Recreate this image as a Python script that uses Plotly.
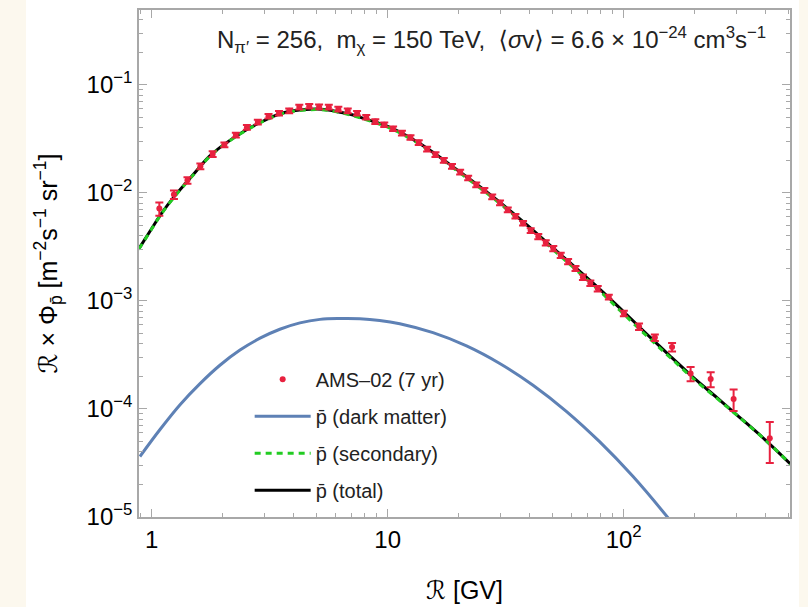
import plotly.graph_objects as go

# AMS-02 (7 yr) antiproton data, R x flux [m^-2 s^-1 sr^-1]
ams_r = [1.077, 1.242, 1.417, 1.607, 1.812, 2.032, 2.272, 2.531, 2.816, 3.126,
         3.461, 3.825, 4.220, 4.650, 5.119, 5.629, 6.178, 6.773, 7.418, 8.112,
         8.862, 9.671, 10.54, 11.49, 12.49, 13.54, 14.69, 15.94, 17.29, 18.73,
         20.28, 21.93, 23.73, 25.68, 27.73, 29.93, 32.28, 34.78, 37.47, 40.37,
         43.47, 46.77, 50.32, 54.12, 58.16, 62.51, 67.21, 72.25, 77.65, 86.52,
         100.2, 116.2, 135.6, 160.4, 192.2, 233.8, 292.4, 416.2]
ams_flux = [7.16e-3, 9.64e-3, 1.306e-2, 1.762e-2, 2.29e-2, 2.79e-2, 3.43e-2, 4.04e-2, 4.52e-2, 5.13e-2,
            5.47e-2, 5.75e-2, 6.24e-2, 6.35e-2, 6.27e-2, 6.22e-2, 5.96e-2, 5.75e-2, 5.47e-2, 5.02e-2,
            4.58e-2, 4.28e-2, 3.93e-2, 3.58e-2, 3.26e-2, 2.93e-2, 2.55e-2, 2.26e-2, 2.00e-2, 1.76e-2,
            1.56e-2, 1.375e-2, 1.19e-2, 1.057e-2, 9.18e-3, 8.09e-3, 6.97e-3, 6.08e-3, 5.24e-3, 4.49e-3,
            3.95e-3, 3.45e-3, 3.06e-3, 2.65e-3, 2.32e-3, 2.00e-3, 1.66e-3, 1.46e-3, 1.30e-3, 1.087e-3,
            7.67e-4, 5.79e-4, 4.58e-4, 3.75e-4, 2.13e-4, 1.89e-4, 1.236e-4, 5.36e-5]
ams_err = [1.0e-3, 8.7e-4, 9.1e-4, 1.06e-3, 1.37e-3, 1.40e-3, 1.72e-3, 2.02e-3, 2.26e-3, 2.57e-3,
           2.74e-3, 2.88e-3, 3.12e-3, 3.18e-3, 3.14e-3, 3.11e-3, 2.98e-3, 2.88e-3, 2.74e-3, 2.51e-3,
           2.29e-3, 2.14e-3, 1.97e-3, 1.79e-3, 1.63e-3, 1.47e-3, 1.28e-3, 1.13e-3, 1.00e-3, 8.8e-4,
           7.8e-4, 6.9e-4, 6.0e-4, 5.3e-4, 4.6e-4, 4.0e-4, 3.5e-4, 3.0e-4, 2.6e-4, 2.3e-4,
           2.2e-4, 1.9e-4, 1.7e-4, 1.5e-4, 1.3e-4, 1.1e-4, 9.5e-5, 8.5e-5, 7.8e-5, 5.4e-5,
           4.6e-5, 4.0e-5, 3.2e-5, 3.4e-5, 3.2e-5, 3.0e-5, 2.8e-5, 2.2e-5]

# model curves
curve_r = [0.88, 1.0, 1.1, 1.25, 1.5, 1.75, 2.0, 2.5, 3.0, 3.5, 4.0, 4.5, 5.0, 5.5, 6.0, 7.0,
           8.0, 9.0, 10, 12, 15, 20, 25, 30, 40, 50, 60, 80, 100, 130, 160, 200, 250, 300, 400, 510]
total_flux = [3.02e-3, 4.68e-3, 6.46e-3, 9.33e-3, 1.479e-2, 2.163e-2, 2.754e-2, 3.80e-2, 4.68e-2,
              5.40e-2, 5.75e-2, 5.92e-2, 5.97e-2, 5.89e-2, 5.71e-2, 5.31e-2, 4.86e-2, 4.48e-2,
              4.12e-2, 3.39e-2, 2.51e-2, 1.596e-2, 1.109e-2, 8.13e-3, 4.79e-3, 3.11e-3, 2.20e-3,
              1.259e-3, 7.94e-4, 4.57e-4, 2.99e-4, 1.905e-4, 1.259e-4, 8.91e-5, 5.13e-5, 3.09e-5]
secondary_flux = [2.99e-3, 4.64e-3, 6.40e-3, 9.24e-3, 1.466e-2, 2.145e-2, 2.73e-2, 3.77e-2, 4.64e-2,
                  5.35e-2, 5.70e-2, 5.86e-2, 5.91e-2, 5.83e-2, 5.65e-2, 5.24e-2, 4.79e-2, 4.41e-2,
                  4.06e-2, 3.33e-2, 2.46e-2, 1.56e-2, 1.08e-2, 7.92e-3, 4.65e-3, 3.01e-3, 2.12e-3,
                  1.21e-3, 7.57e-4, 4.40e-4, 2.90e-4, 1.86e-4, 1.24e-4, 8.85e-5, 5.12e-5, 3.09e-5]

dm_r = [0.891, 1.084, 1.318, 1.602, 1.945, 2.366, 2.877, 3.491, 4.246, 5.164, 6.266, 7.621,
        9.247, 11.25, 15.56, 21.58, 29.85, 41.30, 57.15, 79.07, 109.4, 156.3, 177.8]
dm_flux = [3.63e-5, 6.46e-5, 1.096e-4, 1.718e-4, 2.54e-4, 3.51e-4, 4.52e-4, 5.47e-4, 6.27e-4,
           6.75e-4, 6.87e-4, 6.84e-4, 6.60e-4, 6.15e-4, 5.09e-4, 3.84e-4, 2.64e-4, 1.66e-4,
           9.52e-5, 4.98e-5, 2.38e-5, 9.48e-6, 6.62e-6]

x_major = [1, 10, 100]
x_major_text = ["1", "10", "10<sup>2</sup>"]
y_major = [1e-5, 1e-4, 1e-3, 1e-2, 1e-1]
y_major_text = ["10<sup>\u22125</sup>", "10<sup>\u22124</sup>", "10<sup>\u22123</sup>",
                "10<sup>\u22122</sup>", "10<sup>\u22121</sup>"]

RED = "#e8213f"
BLUE = "#5e81b5"
GREEN = "#22cc22"
FRAME = "#a8a8a8"
FONT = "Liberation Sans, Arial, DejaVu Sans, sans-serif"
NB = "\u00a0"

fig = go.Figure()

fig.add_trace(go.Scatter(
    x=dm_r, y=dm_flux, mode="lines", name="p\u0304 (dark matter)",
    line=dict(color=BLUE, width=3, shape="spline"),
    legendgroup="dm", legendrank=2
))
fig.add_trace(go.Scatter(
    x=curve_r, y=total_flux, mode="lines", name="p\u0304 (total)",
    line=dict(color="black", width=3, shape="spline"),
    legendgroup="tot", legendrank=4
))
fig.add_trace(go.Scatter(
    x=curve_r, y=secondary_flux, mode="lines", name="p\u0304 (secondary)",
    line=dict(color=GREEN, width=3, dash="6px,5px", shape="spline"),
    legendgroup="sec", legendrank=3
))
fig.add_trace(go.Scatter(
    x=ams_r, y=ams_flux, mode="markers", name="AMS\u201302 (7 yr)",
    marker=dict(color=RED, size=6),
    error_y=dict(type="data", array=ams_err, color=RED, thickness=2, width=4),
    legendgroup="ams", legendrank=1
))

x_minor = [k * 10 ** e for e in range(-1, 3) for k in range(2, 10)]
y_minor = [k * 10.0 ** e for e in range(-5, -1) for k in range(2, 10)] + [0.2, 0.3, 0.4]

axis_common = dict(
    type="log", automargin=False,
    showline=True, linecolor=FRAME, linewidth=1.5, mirror="ticks",
    ticks="inside", ticklen=8, tickcolor=FRAME, tickwidth=1,
    showgrid=False, zeroline=False,
    tickfont=dict(family=FONT, size=24, color="black"),
)

fig.update_xaxes(
    **axis_common,
    range=[-0.054, 2.705],
    tickvals=x_major, ticktext=x_major_text,
    minor=dict(tickvals=x_minor, ticks="inside", ticklen=4, tickcolor=FRAME, showgrid=False),
    title=dict(text="\u211b [GV]", font=dict(family=FONT, size=25, color="black"), standoff=30),
)
fig.update_yaxes(
    **axis_common,
    range=[-5, -0.307],
    tickvals=y_major, ticktext=y_major_text,
    minor=dict(tickvals=y_minor, ticks="inside", ticklen=4, tickcolor=FRAME, showgrid=False),
    title=dict(text="\u211b \u00d7 \u03a6<sub>p\u0304</sub> [m<sup>\u22122</sup>s<sup>\u22121</sup> sr<sup>\u22121</sup>]",
               font=dict(family=FONT, size=25, color="black"), standoff=22),
)

fig.add_annotation(
    x=0.541, y=0.941, xref="paper", yref="paper", showarrow=False,
    xanchor="center", yanchor="middle",
    text=("N<sub>\u03c0\u2032</sub> = 256," + NB + NB + "m<sub>\u03c7</sub> = 150 TeV," + NB + NB
          + "\u27e8<i>\u03c3</i>v\u27e9 = 6.6 \u00d7 10<sup>\u221224</sup> cm<sup>3</sup>s<sup>\u22121</sup>"),
    font=dict(family=FONT, size=24, color="#222222"),
)

# white slide panel behind the chart
fig.add_shape(type="rect", xref="paper", yref="paper", x0=-0.1736, x1=1.0138, y0=-0.18, y1=1.02,
              fillcolor="white", line=dict(width=0), layer="below")

fig.update_layout(
    width=808, height=607,
    margin=dict(l=139, r=18, t=10, b=90),
    paper_bgcolor="#fcf8ee",
    plot_bgcolor="white",
    font=dict(family=FONT, color="black"),
    showlegend=True,
    legend=dict(
        x=0.17, y=0.31, xanchor="left", yanchor="top",
        bgcolor="rgba(0,0,0,0)", font=dict(family=FONT, size=20, color="#222222"),
        itemwidth=56, tracegroupgap=8, traceorder="grouped",
    ),
)

fig.write_html(
    "out.html",
    config={"displayModeBar": False},
    post_script="document.body.style.margin='0';document.body.style.overflow='hidden';",
)
